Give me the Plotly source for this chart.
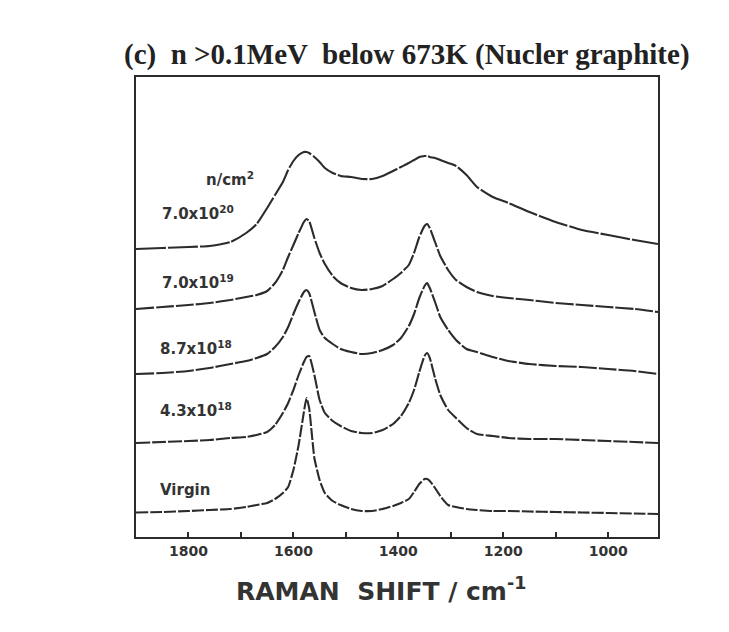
import plotly.graph_objects as go

# Raman shift grid (cm^-1) shared by all spectra
shift = [1900, 1850, 1800, 1760, 1720, 1690, 1670, 1650, 1635, 1620, 1610, 1600,
         1590, 1580, 1575, 1570, 1560, 1550, 1540, 1525, 1510, 1490, 1470, 1450,
         1430, 1410, 1395, 1380, 1370, 1360, 1350, 1345, 1340, 1330, 1320, 1305,
         1290, 1270, 1250, 1220, 1190, 1150, 1100, 1050, 1000, 950, 905]

# Stacked intensities (arb. units, vertical offsets included)
fluence_7_0e20 = [28.8, 28.9, 29.0, 29.1, 29.5, 30.4, 31.3, 32.9, 34.2, 35.5, 36.7, 37.6,
                  38.2, 38.5, 38.5, 38.4, 38.0, 37.5, 36.9, 36.4, 36.1, 36.0, 35.8, 35.8,
                  36.1, 36.6, 37.0, 37.4, 37.7, 38.0, 38.1, 38.1, 38.0, 37.9, 37.7, 37.4,
                  37.1, 36.2, 35.0, 34.0, 33.4, 32.5, 31.5, 30.7, 30.2, 29.7, 29.3]
fluence_7_0e19 = [22.8, 23.0, 23.2, 23.4, 23.7, 24.0, 24.2, 24.6, 25.4, 26.7, 28.0, 29.2,
                  30.4, 31.5, 31.8, 31.6, 29.9, 28.4, 27.3, 26.1, 25.4, 24.9, 24.7, 24.8,
                  25.1, 25.8, 26.4, 27.2, 28.4, 30.0, 31.1, 31.3, 30.9, 29.5, 28.1, 26.7,
                  25.7, 25.0, 24.5, 24.1, 23.9, 23.7, 23.4, 23.2, 23.0, 22.8, 22.5]
fluence_8_7e18 = [16.3, 16.4, 16.6, 16.9, 17.3, 17.6, 17.9, 18.3, 19.0, 20.0, 21.0, 22.3,
                  23.5, 24.5, 24.7, 24.4, 22.5, 20.7, 19.9, 19.3, 18.8, 18.5, 18.3, 18.4,
                  18.7, 19.2, 19.9, 21.1, 22.3, 23.9, 25.1, 25.4, 24.9, 23.5, 22.0, 20.7,
                  19.7, 18.8, 18.5, 18.0, 17.6, 17.3, 17.1, 17.0, 16.8, 16.6, 16.3]
fluence_4_3e18 = [9.4, 9.5, 9.6, 9.7, 9.9, 10.0, 10.2, 10.5, 11.2, 12.4, 13.4, 14.7,
                  16.2, 17.5, 18.0, 18.1, 16.2, 13.7, 12.4, 11.6, 11.1, 10.6, 10.4, 10.4,
                  10.7, 11.3, 12.1, 13.4, 14.7, 16.5, 18.1, 18.4, 17.9, 15.9, 14.2, 12.7,
                  11.9, 10.9, 10.3, 10.1, 9.9, 9.8, 9.8, 9.7, 9.6, 9.5, 9.4]
virgin = [2.45, 2.5, 2.6, 2.7, 2.8, 3.0, 3.2, 3.4, 3.8, 4.4, 5.0, 6.7,
          9.2, 12.5, 13.9, 12.9, 7.9, 5.7, 4.4, 3.6, 3.2, 2.8, 2.6, 2.6,
          2.8, 3.1, 3.4, 3.8, 4.5, 5.3, 5.8, 5.8, 5.6, 4.9, 4.1, 3.2,
          3.0, 2.8, 2.7, 2.6, 2.6, 2.55, 2.5, 2.45, 2.4, 2.35, 2.3]

series = [fluence_7_0e20, fluence_7_0e19, fluence_8_7e18, fluence_4_3e18, virgin]
dashes = ["30px,2px", "18px,2px", "18px,2px", "14px,2px", "12px,2px"]

# Curve labels: (text, shift position, intensity position, anchor)
labels = [
    ("n/cm<sup>2</sup>", 1770, 35.8, "left"),
    ("7.0x10<sup>20</sup>", 1855, 32.4, "left"),
    ("7.0x10<sup>19</sup>", 1855, 25.5, "left"),
    ("8.7x10<sup>18</sup>", 1859, 18.9, "left"),
    ("4.3x10<sup>18</sup>", 1859, 12.7, "left"),
    ("Virgin", 1859, 4.7, "left"),
]

major_ticks = [1800, 1600, 1400, 1200, 1000]
minor_ticks = [1700, 1500, 1300, 1100]

ink = "#2b2b2b"
fig = go.Figure()
for ys, d in zip(series, dashes):
    fig.add_trace(go.Scatter(
        x=shift, y=ys, mode="lines",
        line=dict(color=ink, width=2.1, dash=d, shape="spline", smoothing=0.5),
        showlegend=False, hoverinfo="skip"))

for text, xv, yv, anchor in labels:
    fig.add_annotation(x=xv, y=yv, text=text, showarrow=False, xanchor=anchor,
                       yanchor="middle",
                       font=dict(family="DejaVu Sans", size=15, color="#333333",
                                 weight="bold"))

fig.add_annotation(xref="paper", yref="paper", x=0.469, y=-0.115,
                   text="RAMAN  SHIFT / cm<sup>-1</sup>", showarrow=False,
                   xanchor="center", yanchor="middle",
                   font=dict(family="DejaVu Sans", size=25, color="#333333",
                             weight="bold"))

fig.update_layout(
    width=729, height=632,
    margin=dict(l=136, r=71, t=77, b=95),
    paper_bgcolor="white", plot_bgcolor="white",
    title=dict(text="<b>(c)  n >0.1MeV  below 673K (Nucler graphite)</b>",
               x=0.558, xanchor="center", y=0.915, yanchor="middle",
               font=dict(family="Liberation Serif", size=29, color="#222222")),
    xaxis=dict(range=[1900, 905], showgrid=False, zeroline=False,
               showline=True, mirror=True, linecolor=ink, linewidth=2,
               ticks="inside", ticklen=5, tickwidth=1.5, tickcolor=ink,
               tickvals=major_ticks, ticktext=[str(t) for t in major_ticks],
               tickfont=dict(family="DejaVu Sans", size=14, color="#333333",
                             weight="bold"),
               minor=dict(tickvals=minor_ticks, ticks="inside", ticklen=5,
                          tickwidth=1.5, tickcolor=ink)),
    yaxis=dict(range=[0, 46], showgrid=False, zeroline=False,
               showline=True, mirror=True, linecolor=ink, linewidth=2,
               showticklabels=False, ticks=""),
)

fig.write_html("out.html")
